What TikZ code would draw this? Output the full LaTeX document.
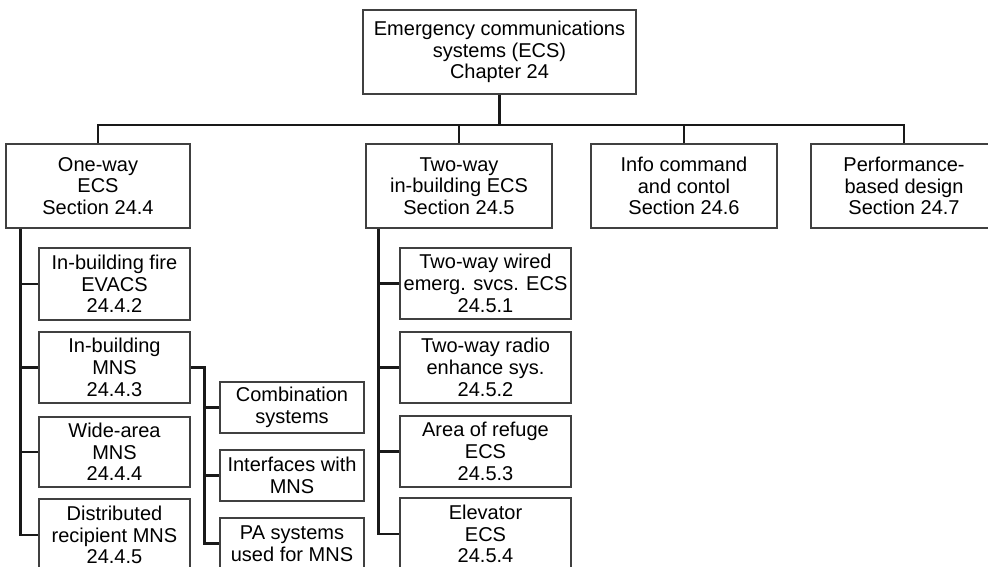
\documentclass[tikz,border=0pt]{standalone}
\usepackage{fontspec}
\setmainfont{Liberation Sans}
\usetikzlibrary{calc}
\begin{document}
\begin{tikzpicture}[x=1pt,y=1pt,
  box/.style={draw=black!75, line width=1.1pt, rectangle, align=center, inner sep=2pt,
    font=\fontsize{20}{21.7}\selectfont, text=black},
  conn/.style={draw=black!90, line width=2.8pt}]
\useasboundingbox (0,0) rectangle (988,-567);
\clip (0,0) rectangle (988,-567);
% top
\node[box, minimum width=273, minimum height=84] (top) at (499.5,-52) {Emergency communications\\systems (ECS)\\Chapter 24};
% level 1
\node[box, minimum width=184, minimum height=84] (one) at (98,-186) {One-way\\ECS\\Section 24.4};
\node[box, minimum width=186, minimum height=84] (two) at (459,-186) {Two-way\\in-building ECS\\Section 24.5};
\node[box, minimum width=186, minimum height=84] (info) at (684,-186) {Info command\\and contol\\Section 24.6};
\node[box, minimum width=186, minimum height=84] (perf) at (904,-186) {Performance-\\based design\\Section 24.7};
% left children
\node[box, minimum width=151, minimum height=72] (fire) at (114.5,-284) {In-building fire\\EVACS\\24.4.2};
\node[box, minimum width=151, minimum height=71] (mns) at (114.5,-367.5) {In-building\\MNS\\24.4.3};
\node[box, minimum width=151, minimum height=70] (wide) at (114.5,-452) {Wide-area\\MNS\\24.4.4};
\node[box, minimum width=151, minimum height=72] (distr) at (114.5,-535) {Distributed\\recipient MNS\\24.4.5};
% MNS children
\node[box, minimum width=144, minimum height=51] (comb) at (292,-407.5) {Combination\\systems};
\node[box, minimum width=144, minimum height=51] (intf) at (292,-475.5) {Interfaces with\\MNS};
\node[box, minimum width=144, minimum height=51] (pa) at (292,-543.5) {PA systems\\used for MNS};
% two-way children
\node[box, minimum width=171, minimum height=71] (wired) at (485.5,-283.5) {Two-way wired\\emerg. svcs. ECS\\24.5.1};
\node[box, minimum width=171, minimum height=71] (radio) at (485.5,-367.5) {Two-way radio\\enhance sys.\\24.5.2};
\node[box, minimum width=171, minimum height=71] (refuge) at (485.5,-451.5) {Area of refuge\\ECS\\24.5.3};
\node[box, minimum width=171, minimum height=72] (elev) at (485.5,-534) {Elevator\\ECS\\24.5.4};
% connectors: top level
\coordinate (bus) at (0,-125);
\draw[conn] (top.south) -- (top.south |- bus);
\draw[conn] (one.north) |- (perf.north |- bus) -- (perf.north);
\draw[conn] (two.north) -- (two.north |- bus);
\draw[conn] (info.north) -- (info.north |- bus);
% left spine
\coordinate (sp1) at ($(one.south west)+(15,0)$);
\draw[conn] (sp1) |- (distr.west);
\draw[conn] (fire.west) -- (fire.west -| sp1);
\draw[conn] (mns.west) -- (mns.west -| sp1);
\draw[conn] (wide.west) -- (wide.west -| sp1);
% MNS spine
\coordinate (sp3) at ($(mns.east)+(14,0)$);
\draw[conn] (mns.east) -- (sp3) |- (pa.west);
\draw[conn] (comb.west) -- (comb.west -| sp3);
\draw[conn] (intf.west) -- (intf.west -| sp3);
% two-way spine
\coordinate (sp2) at ($(two.south west)+(13,0)$);
\draw[conn] (sp2) |- (elev.west);
\draw[conn] (wired.west) -- (wired.west -| sp2);
\draw[conn] (radio.west) -- (radio.west -| sp2);
\draw[conn] (refuge.west) -- (refuge.west -| sp2);
\end{tikzpicture}
\end{document}
